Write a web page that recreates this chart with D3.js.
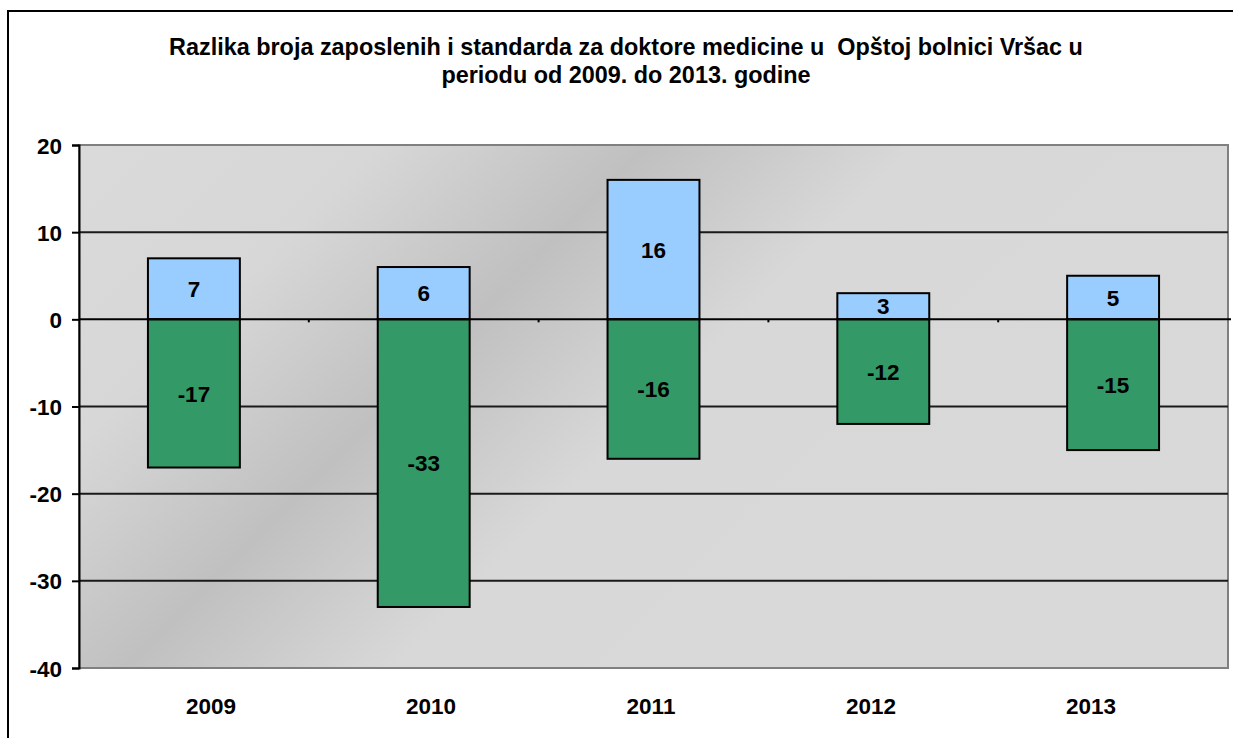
<!DOCTYPE html>
<html><head><meta charset="utf-8">
<script src="https://cdn.jsdelivr.net/npm/d3@7"></script>
<style>html,body{margin:0;padding:0;background:#fff;overflow:hidden;}svg{display:block;font-family:"Liberation Sans",Arial,sans-serif;}</style>
</head><body>
<svg id="chart" width="1233" height="738"></svg>
<script>
const titleLines = ["Razlika broja zaposlenih i standarda za doktore medicine u  Opštoj bolnici Vršac u", "periodu od 2009. do 2013. godine"];
const categories = ["2009", "2010", "2011", "2012", "2013"];
const positiveValues = [7, 6, 16, 3, 5];
const negativeValues = [-17, -33, -16, -12, -15];
const yTicks = [20, 10, 0, -10, -20, -30, -40];

const svg = d3.select("#chart");
const plot = {left: 79, top: 145, right: 1228, bottom: 668};

// outer frame (left and top edges visible; right/bottom lie outside the window)
svg.append("path").attr("d", "M8,760 L8,11 L1240,11")
  .attr("fill", "none").attr("stroke", "#000").attr("stroke-width", 2);

// title
const title = svg.append("text").attr("text-anchor", "middle").attr("font-weight", "bold")
  .attr("font-size", 23.4).attr("fill", "#000").attr("xml:space", "preserve");
titleLines.forEach((t, i) => title.append("tspan").attr("x", 626).attr("y", 55 + i * 28).text(t));

const x = d3.scaleBand().domain(categories).range([plot.left, plot.right]).paddingInner(0.6).paddingOuter(0.3);
const xb = d3.scaleBand().domain(categories).range([plot.left, plot.right]);
const xl = d3.scalePoint().domain(categories).range([plot.left + 132, plot.right - 137]);
const y = d3.scaleLinear().domain([-40, 20]).range([plot.bottom, plot.top]);

// background gradient
const defs = svg.append("defs");
const pw = plot.right - plot.left, ph = plot.bottom - plot.top;
const s = pw + ph;
const grad = defs.append("linearGradient").attr("id", "bg").attr("gradientUnits", "userSpaceOnUse")
  .attr("x1", plot.left).attr("y1", plot.top).attr("x2", plot.left + s / 2).attr("y2", plot.top + s / 2);
[[0, "#dadada"], [0.18, "#d7d7d7"], [0.34, "#c0c0c0"], [0.5, "#d8d8d8"], [1, "#d9d9d9"]]
  .forEach(([o, c]) => grad.append("stop").attr("offset", o).attr("stop-color", c));

svg.append("rect").attr("x", plot.left).attr("y", plot.top).attr("width", pw).attr("height", ph)
  .attr("fill", "url(#bg)").attr("stroke", "#808080").attr("stroke-width", 2);

// gridlines
svg.append("g").selectAll("line").data(yTicks.filter(d => d !== 20 && d !== -40 && d !== 0)).join("line")
  .attr("x1", plot.left).attr("x2", plot.right).attr("y1", d => y(d)).attr("y2", d => y(d))
  .attr("stroke", "#1a1a1a").attr("stroke-width", 2);

// bars
const bars = svg.append("g");
bars.selectAll("rect.pos").data(categories).join("rect").attr("class", "pos")
  .attr("x", d => x(d)).attr("width", x.bandwidth())
  .attr("y", (d, i) => y(positiveValues[i])).attr("height", (d, i) => y(0) - y(positiveValues[i]))
  .attr("fill", "#99ccff").attr("stroke", "#000").attr("stroke-width", 2);
bars.selectAll("rect.neg").data(categories).join("rect").attr("class", "neg")
  .attr("x", d => x(d)).attr("width", x.bandwidth())
  .attr("y", y(0)).attr("height", (d, i) => y(negativeValues[i]) - y(0))
  .attr("fill", "#339966").attr("stroke", "#000").attr("stroke-width", 2);

// zero line
svg.append("line").attr("x1", plot.left).attr("x2", plot.right + 3).attr("y1", y(0)).attr("y2", y(0))
  .attr("stroke", "#000").attr("stroke-width", 2);
svg.append("g").selectAll("line").data(categories.slice(1)).join("line")
  .attr("x1", d => xb(d)).attr("x2", d => xb(d))
  .attr("y1", y(0)).attr("y2", y(0) + 3).attr("stroke", "#000").attr("stroke-width", 2);

// data labels
const fmt = d => String(d);
const lab = svg.append("g").attr("font-weight", "bold").attr("font-size", 22.5).attr("text-anchor", "middle").attr("fill", "#000");
lab.selectAll("text.p").data(categories).join("text").attr("class", "p")
  .attr("x", d => x(d) + x.bandwidth() / 2)
  .attr("y", (d, i) => (y(positiveValues[i]) + y(0)) / 2).attr("dy", "0.36em")
  .text((d, i) => fmt(positiveValues[i]));
lab.selectAll("text.n").data(categories).join("text").attr("class", "n")
  .attr("x", d => x(d) + x.bandwidth() / 2)
  .attr("y", (d, i) => (y(negativeValues[i]) + y(0)) / 2).attr("dy", "0.36em")
  .text((d, i) => fmt(negativeValues[i]));

// y axis
const yAxis = svg.append("g").attr("transform", `translate(${plot.left},0)`)
  .call(d3.axisLeft(y).tickValues(yTicks).tickFormat(fmt).tickSize(7).tickPadding(10));
yAxis.select(".domain").attr("stroke", "#000").attr("stroke-width", 2);
yAxis.selectAll(".tick line").attr("stroke", "#000").attr("stroke-width", 2);
yAxis.selectAll(".tick text").attr("font-size", 22.5).attr("font-weight", "bold").attr("fill", "#000")
  .attr("font-family", "Liberation Sans, Arial, sans-serif").attr("dy", "0.36em");

// x labels
svg.append("g").selectAll("text").data(categories).join("text")
  .attr("x", d => xl(d)).attr("y", 714)
  .attr("text-anchor", "middle").attr("font-weight", "bold").attr("font-size", 22.5).attr("fill", "#000")
  .text(d => d);
</script>
</body></html>
